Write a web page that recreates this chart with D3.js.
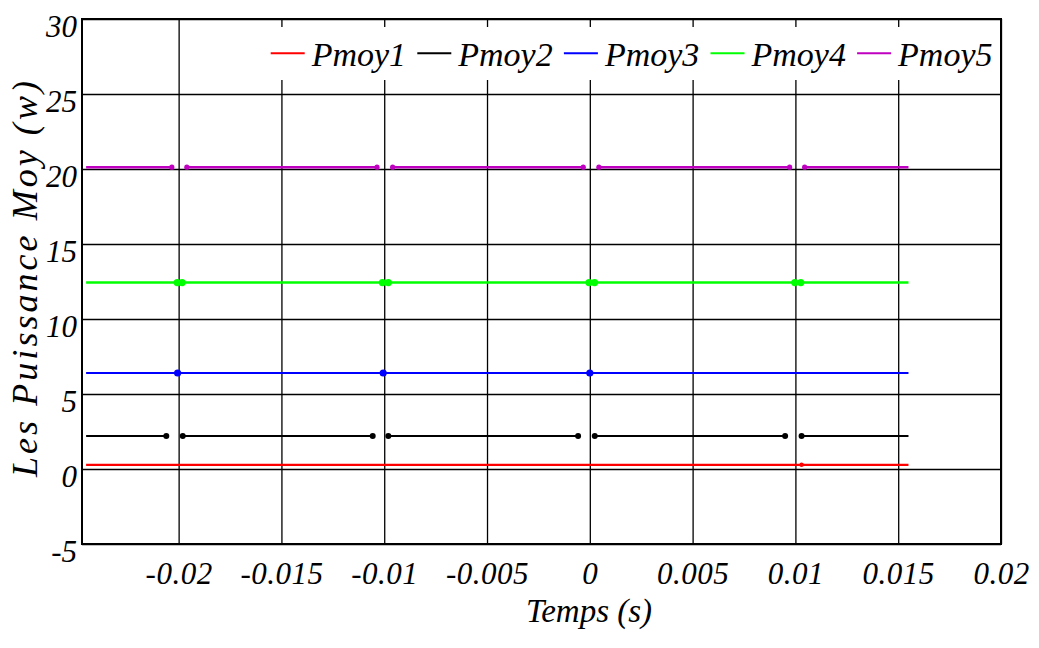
<!DOCTYPE html>
<html>
<head>
<meta charset="utf-8">
<script src="https://cdn.jsdelivr.net/npm/d3@7"></script>
<style>
  html, body { margin: 0; padding: 0; background: #fff; }
  svg { display: block; }
  text { font-family: "Liberation Serif", "DejaVu Serif", serif; font-style: italic; fill: #000; }
</style>
</head>
<body>
<div id="chart"></div>
<script>
// ---- data ----
const xTicks = [-0.02, -0.015, -0.01, -0.005, 0, 0.005, 0.01, 0.015, 0.02];
const yTicks = [-5, 0, 5, 10, 15, 20, 25, 30];
const seriesNames = ["Pmoy1", "Pmoy2", "Pmoy3", "Pmoy4", "Pmoy5"];
const seriesLevels = [0.28, 2.2, 6.4, 12.43, 20.12];

const pmoy1Segments = [[-0.0245, 0.0155]];
const pmoy1Markers = [0.0103];

const pmoy2Segments = [[-0.0245, -0.0206], [-0.0198, -0.01056], [-0.0098, -0.00057], [0.00024, 0.0095], [0.0103, 0.0155]];
const pmoy2Markers = [-0.0206, -0.0198, -0.01056, -0.0098, -0.00057, 0.00024, 0.0095, 0.0103];

const pmoy3Segments = [[-0.0245, 0.0155]];
const pmoy3Markers = [-0.02005, -0.01005, 0];

const pmoy4Segments = [[-0.0245, -0.02007], [-0.01983, -0.01009], [-0.0098, -0.00004], [0.00023, 0.00997], [0.01026, 0.0155]];
const pmoy4Markers = [-0.02007, -0.01983, -0.01009, -0.0098, -0.00004, 0.00023, 0.00997, 0.01026];

const pmoy5Segments = [[-0.0245, -0.02033], [-0.0196, -0.01035], [-0.00959, -0.00032], [0.00044, 0.00972], [0.01045, 0.0155]];
const pmoy5Markers = [-0.02033, -0.0196, -0.01035, -0.00959, -0.00032, 0.00044, 0.00972, 0.01045];

const xTitle = "Temps (s)";
const yTitle = "Les Puissance Moy (w)";

// ---- styles ----
const seriesColors = ["#ff0000", "#000000", "#0000ff", "#00ff00", "#c000c0"];
const markerRadius = [2.2, 3, 3.6, 3.6, 2.6];
const lineWidths = [2.2, 2.2, 2.2, 2.4, 2.6];

const allSegments = [pmoy1Segments, pmoy2Segments, pmoy3Segments, pmoy4Segments, pmoy5Segments];
const allMarkers = [pmoy1Markers, pmoy2Markers, pmoy3Markers, pmoy4Markers, pmoy5Markers];

// ---- layout ----
const W = 1039, H = 648;
const plotL = 82, plotR = 1001, plotT = 19, plotB = 544;

const svg = d3.select("#chart").append("svg").attr("width", W).attr("height", H);

const x = d3.scaleLinear().domain([-0.0247, 0.02]).range([plotL, plotR]);
const y = d3.scaleLinear().domain([-5, 30]).range([plotB, plotT]);

// grid + ticks (x)
const gx = svg.append("g")
  .attr("transform", `translate(0,${plotB})`)
  .call(d3.axisBottom(x).tickValues(xTicks).tickSize(-(plotB - plotT)).tickFormat(d => String(+d.toFixed(3))));
gx.select(".domain").remove();
gx.selectAll("line").attr("stroke", "#000").attr("stroke-width", 1.3);
gx.selectAll("text")
  .attr("y", 40).attr("dy", 0)
  .style("font-size", "31px").style("letter-spacing", "0.5px")
  .attr("fill", "#000");

// grid + ticks (y)
const gy = svg.append("g")
  .attr("transform", `translate(${plotL},0)`)
  .call(d3.axisLeft(y).tickValues(yTicks).tickSize(-(plotR - plotL)).tickFormat(d => String(d)));
gy.select(".domain").remove();
gy.selectAll("line").attr("stroke", "#000").attr("stroke-width", 1.3);
gy.selectAll("text")
  .attr("x", -5).attr("dy", 17)
  .style("font-size", "31px")
  .attr("fill", "#000");

// legend background
const legendX0 = 270.7, legendPitch = 146.6, legendY = 53.3;
svg.append("rect")
  .attr("x", 262).attr("y", 27).attr("width", plotR - 262 - 1).attr("height", 53)
  .attr("fill", "#fff");

// series
const seriesG = svg.append("g");
seriesNames.forEach((name, i) => {
  const g = seriesG.append("g");
  g.selectAll("line")
    .data(allSegments[i])
    .join("line")
    .attr("x1", d => x(d[0])).attr("x2", d => x(d[1]))
    .attr("y1", y(seriesLevels[i])).attr("y2", y(seriesLevels[i]))
    .attr("stroke", seriesColors[i]).attr("stroke-width", lineWidths[i]);
  g.selectAll("circle")
    .data(allMarkers[i])
    .join("circle")
    .attr("cx", d => x(d)).attr("cy", y(seriesLevels[i]))
    .attr("r", markerRadius[i])
    .attr("fill", seriesColors[i]);
});

// legend items
const leg = svg.append("g");
seriesNames.forEach((name, i) => {
  const lx = legendX0 + i * legendPitch;
  leg.append("line")
    .attr("x1", lx).attr("x2", lx + 34)
    .attr("y1", legendY).attr("y2", legendY)
    .attr("stroke", seriesColors[i]).attr("stroke-width", 2);
  leg.append("text")
    .attr("x", lx + 41).attr("y", 65.5)
    .style("font-size", "34px")
    .text(name);
});

// frame
svg.append("rect")
  .attr("x", plotL).attr("y", plotT)
  .attr("width", plotR - plotL).attr("height", plotB - plotT)
  .attr("fill", "none").attr("stroke", "#000").attr("stroke-width", 2);

// axis titles
svg.append("text")
  .attr("x", 589).attr("y", 622)
  .attr("text-anchor", "middle")
  .style("font-size", "33px")
  .text(xTitle);

svg.append("text")
  .attr("transform", "translate(37,279) rotate(-90)")
  .attr("text-anchor", "middle")
  .attr("textLength", 396).attr("lengthAdjust", "spacing")
  .style("font-size", "36px")
  .text(yTitle);
</script>
</body>
</html>
